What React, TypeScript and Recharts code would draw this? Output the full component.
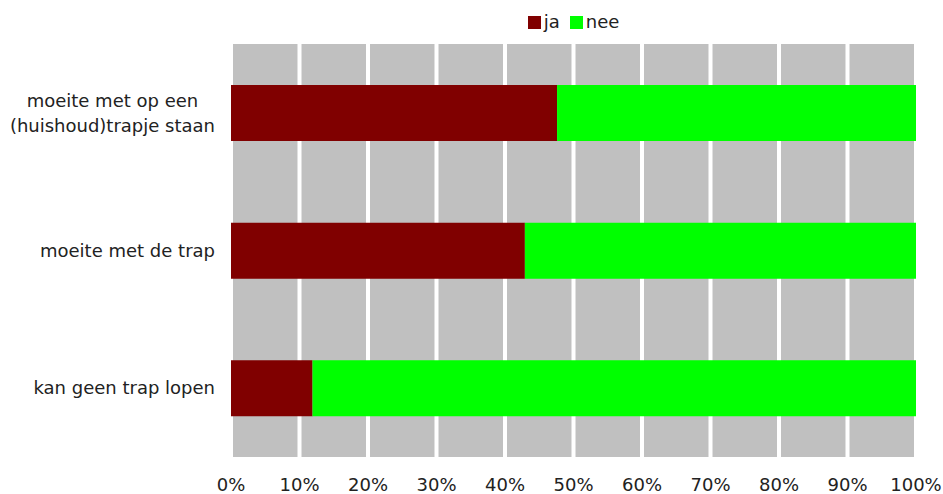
import { BarChart, Bar, XAxis, YAxis, CartesianGrid, Legend } from "recharts";

const categories = [
  "moeite met op een\n(huishoud)trapje staan",
  "moeite met de trap",
  "kan geen trap lopen",
];
const jaValues = [47.6, 42.9, 11.9];
const neeValues = [52.4, 57.1, 88.1];
const xTicks = [0, 10, 20, 30, 40, 50, 60, 70, 80, 90, 100];

const data = categories.map((name, i) => ({
  name,
  ja: jaValues[i],
  nee: neeValues[i],
}));

const FONT = "DejaVu Sans, Verdana, sans-serif";
const FONT_SIZE = 18;
const TEXT_COLOR = "#222";

let measureCtx: CanvasRenderingContext2D | null = null;
function textWidth(s: string) {
  if (!measureCtx) {
    measureCtx = document.createElement("canvas").getContext("2d");
  }
  if (!measureCtx) return s.length * FONT_SIZE * 0.6;
  measureCtx.font = `${FONT_SIZE}px ${FONT}`;
  return measureCtx.measureText(s).width;
}

// multi-line category labels, centred as a block that ends just left of the plot
function CategoryTick(props: any) {
  const { y, payload } = props;
  const lines: string[] = String(payload.value).split("\n");
  const right = 215;
  const blockWidth = Math.max(...lines.map(textWidth));
  const cx = right - blockWidth / 2;
  const lineHeight = 25;
  const startY = y - ((lines.length - 1) * lineHeight) / 2;
  return (
    <g>
      {lines.map((line, i) => (
        <text
          key={i}
          x={cx}
          y={startY + i * lineHeight}
          dy="0.35em"
          textAnchor="middle"
          fontFamily={FONT}
          fontSize={FONT_SIZE}
          fill={TEXT_COLOR}
        >
          {line}
        </text>
      ))}
    </g>
  );
}

const legendItems = [
  { label: "ja", color: "#800000" },
  { label: "nee", color: "#00ff00" },
];

function LegendContent() {
  return (
    <div
      style={{
        display: "flex",
        justifyContent: "center",
        alignItems: "center",
        gap: 10,
        fontFamily: FONT,
        fontSize: FONT_SIZE,
        color: TEXT_COLOR,
        lineHeight: "20px",
      }}
    >
      {legendItems.map((item) => (
        <div key={item.label} style={{ display: "flex", alignItems: "center" }}>
          <span
            style={{
              width: 13,
              height: 13,
              background: item.color,
              marginRight: 3,
              display: "inline-block",
            }}
          />
          <span>{item.label}</span>
        </div>
      ))}
    </div>
  );
}

export default function App() {
  return (
    <div style={{ position: "absolute", left: 0, top: 0, width: 943, height: 494, background: "#fff" }}>
      <BarChart
        width={943}
        height={494}
        data={data}
        layout="vertical"
        barSize={56}
        margin={{ top: 44, right: 27, bottom: 0, left: 0 }}
      >
        <CartesianGrid
          horizontal={false}
          fill="#c0c0c0"
          fillOpacity={1}
          stroke="#ffffff"
          strokeWidth={4}
        />
        <XAxis
          type="number"
          domain={[0, 100]}
          ticks={xTicks}
          tickFormatter={(v) => `${v}%`}
          axisLine={false}
          tickLine={false}
          tickMargin={15}
          height={37}
          interval={0}
          tick={{ fontFamily: FONT, fontSize: FONT_SIZE, fill: TEXT_COLOR }}
        />
        <YAxis
          type="category"
          dataKey="name"
          width={231}
          axisLine={false}
          tickLine={false}
          tick={(p: any) => <CategoryTick {...p} />}
        />
        <Legend
          verticalAlign="middle"
          width={685}
          wrapperStyle={{ top: 12, left: 231 }}
          content={() => <LegendContent />}
        />
        <Bar dataKey="ja" stackId="a" fill="#800000" isAnimationActive={false} />
        <Bar dataKey="nee" stackId="a" fill="#00ff00" isAnimationActive={false} />
      </BarChart>
    </div>
  );
}
